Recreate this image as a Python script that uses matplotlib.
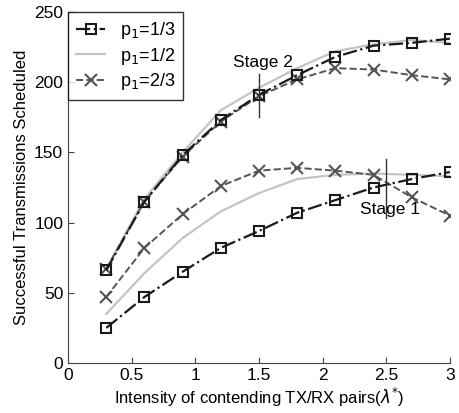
import matplotlib
matplotlib.use("Agg")
import matplotlib.pyplot as plt

plt.rcParams['font.family'] = ['Liberation Sans', 'DejaVu Sans']

# intensidade de pares TX/RX concorrentes
lam = [0.3, 0.6, 0.9, 1.2, 1.5, 1.8, 2.1, 2.4, 2.7, 3.0]

# estagio 2 (curvas de cima)
s2_13 = [66, 115, 148, 173, 191, 205, 218, 226, 228, 231]
s2_12 = [67, 117, 150, 180, 196, 210, 222, 227, 230, 228]
s2_23 = [67, 115, 147, 172, 190, 202, 210, 209, 205, 202]

# estagio 1 (curvas de baixo)
s1_13 = [25, 47, 65, 82, 94, 107, 116, 125, 131, 136]
s1_12 = [35, 64, 89, 108, 121, 131, 134, 135, 134, 133]
s1_23 = [47, 82, 106, 126, 137, 139, 137, 134, 118, 105]

labels = ['p$_1$=1/3', 'p$_1$=1/2', 'p$_1$=2/3']

fig = plt.figure(figsize=(4.6, 4.13), dpi=100)
ax = fig.add_axes([0.148, 0.121, 0.830, 0.850])

st13 = dict(color='#1a1a1a', linestyle='-.', linewidth=1.6, marker='s', markersize=7.5,
            markerfacecolor='none', markeredgecolor='#1a1a1a', markeredgewidth=1.5)
st12 = dict(color='#c4c4c4', linestyle='-', linewidth=1.6)
st23 = dict(color='#555555', linestyle='--', linewidth=1.4, marker='x', markersize=8,
            markeredgewidth=1.5)

ax.plot(lam, s2_12, **st12)
ax.plot(lam, s1_12, **st12)
ax.plot(lam, s2_23, **st23)
ax.plot(lam, s1_23, **st23)
ax.plot(lam, s2_13, **st13)
ax.plot(lam, s1_13, **st13)

# legenda
h1, = ax.plot([], [], label=labels[0], **st13)
h2, = ax.plot([], [], label=labels[1], **st12)
h3, = ax.plot([], [], label=labels[2], **st23)
leg = ax.legend(handles=[h1, h2, h3], loc='upper left', bbox_to_anchor=(0.0, 1.0),
                fontsize=13, frameon=True, fancybox=False, edgecolor='black',
                handlelength=1.6, borderaxespad=0.0, labelspacing=0.25,
                borderpad=0.45)
leg.get_frame().set_linewidth(1.0)

# marcacoes dos estagios
ax.plot([1.5, 1.5], [175, 206], color='#333333', linewidth=1.0)
ax.text(1.53, 209, 'Stage 2', fontsize=12.5, ha='center', va='bottom')
ax.plot([2.5, 2.5], [103, 145], color='#333333', linewidth=1.0)
ax.text(2.53, 104, 'Stage 1', fontsize=12.5, ha='center', va='bottom')

ax.set_xlim(0, 3)
ax.set_ylim(0, 250)
ax.set_xticks([0, 0.5, 1, 1.5, 2, 2.5, 3])
ax.set_xticklabels(['0', '0.5', '1', '1.5', '2', '2.5', '3'])
ax.set_yticks([0, 50, 100, 150, 200, 250])
ax.tick_params(direction='in', labelsize=12.5, length=4, color='#444444')
ax.spines['top'].set_visible(False)
ax.spines['right'].set_visible(False)
ax.spines['left'].set_color('#444444')
ax.spines['bottom'].set_color('#444444')

ax.set_xlabel('Intensity of contending TX/RX pairs($\\lambda^{*}$)', fontsize=12, labelpad=2)
ax.set_ylabel('Successful Transmissions Scheduled', fontsize=12, labelpad=4)

plt.savefig('out.png', dpi=100)
